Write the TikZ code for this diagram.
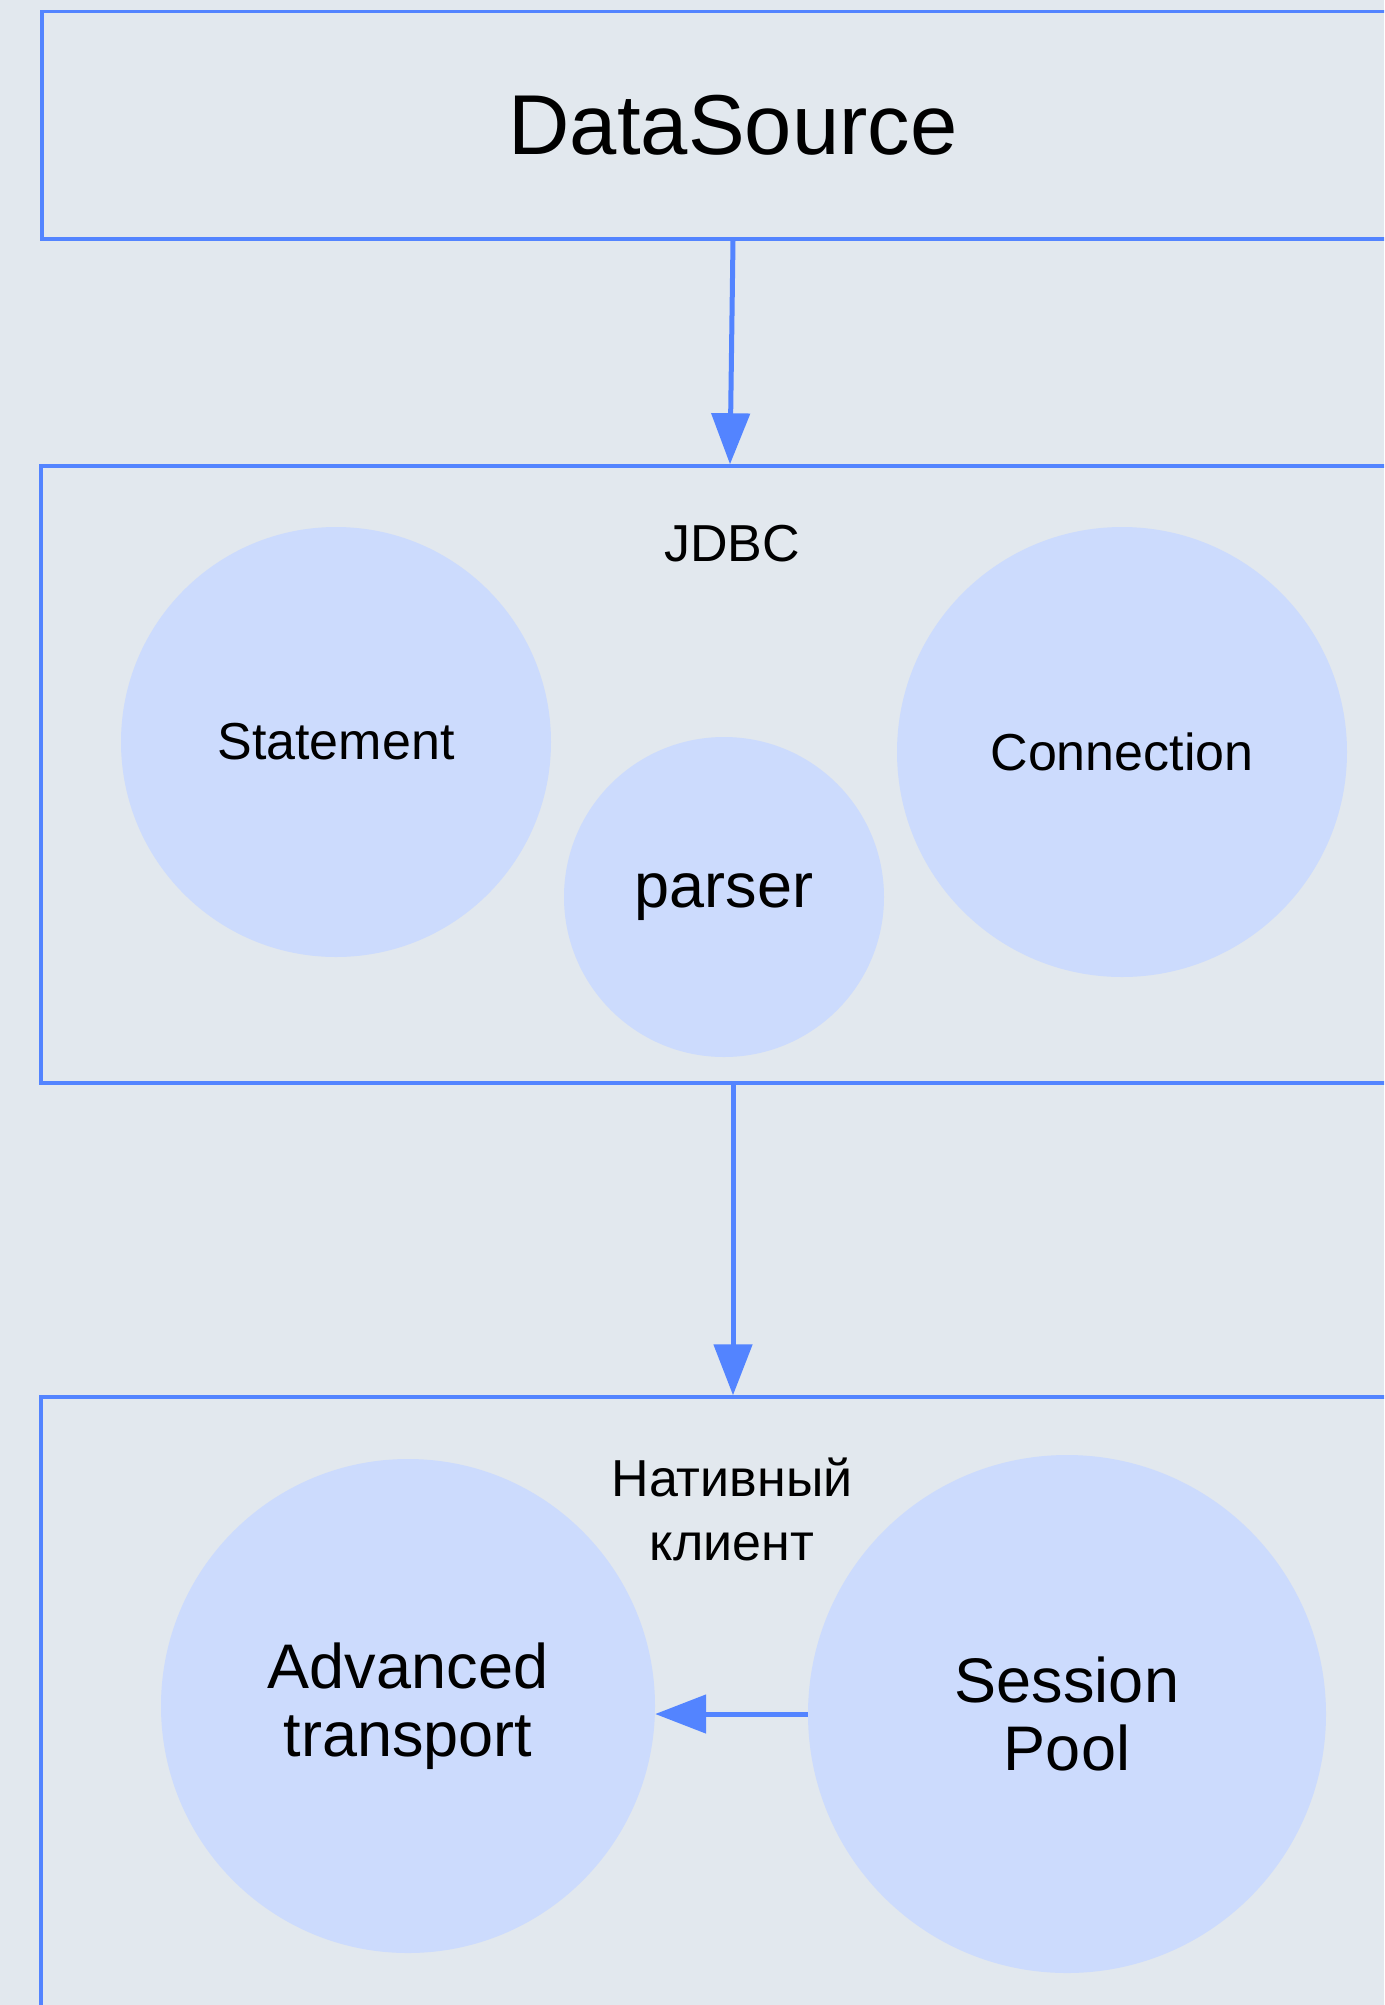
\documentclass[tikz,border=0pt]{standalone}
\usepackage{fontspec}
\setmainfont{Liberation Sans}
\usetikzlibrary{arrows.meta}
\definecolor{bgpaper}{RGB}{226,232,238}
\definecolor{edgeblue}{RGB}{83,132,255}
\definecolor{bubblefill}{RGB}{204,219,253}
\begin{document}
\begin{tikzpicture}[x=1pt,y=-1pt,
  layer/.style={draw=edgeblue, line width=3.5pt, rectangle, inner sep=0pt},
  bubble/.style={circle, fill=bubblefill, inner sep=0pt, align=center},
  flow/.style={draw=edgeblue, line width=5pt, -{Triangle[length=51pt,width=38pt]}},
  small/.style={font=\fontsize{52}{64}\selectfont},
  big/.style={font=\fontsize{63}{68}\selectfont},
]
\useasboundingbox (0,0) rectangle (1384,2005);
\clip (0,0) rectangle (1384,2005);
\fill[bgpaper] (0,0) rectangle (1384,2005);

% layers
\node[layer, minimum width=1382pt, minimum height=227.5pt,
      font=\fontsize{85}{100}\selectfont] (ds) at (733,125) {DataSource};
\node[layer, minimum width=1384pt, minimum height=617pt] (jdbc) at (733,774.5) {};
\node[layer, minimum width=1384pt, minimum height=800pt] (native) at (733,1797) {};

% JDBC layer contents
\node[small] (jdbclabel) at (732,544) {JDBC};
\node[bubble, small, minimum size=430pt] (stmt) at (336,742) {Statement};
\node[bubble, big, minimum size=320pt] (parser) at (724,897) {\raisebox{-5pt}{parser}};
\node[bubble, small, minimum size=450pt] (conn) at (1122,752) {Connection};

% native client contents
\node[small, align=center] (nativelabel) at (732,1509) {Нативный\\клиент};
\node[bubble, big, minimum size=494pt] (transport) at (408,1706) {Advanced\\transport};
\node[bubble, big, minimum size=518pt] (pool) at (1067,1714) {Session\\Pool};

% connectors
\draw[flow] (ds.south) -- ([xshift=-3pt]jdbc.north);
\draw[flow] (jdbc.south) -- (native.north);
\draw[flow] (pool.west) -- (transport.east |- pool.west);
\end{tikzpicture}
\end{document}
